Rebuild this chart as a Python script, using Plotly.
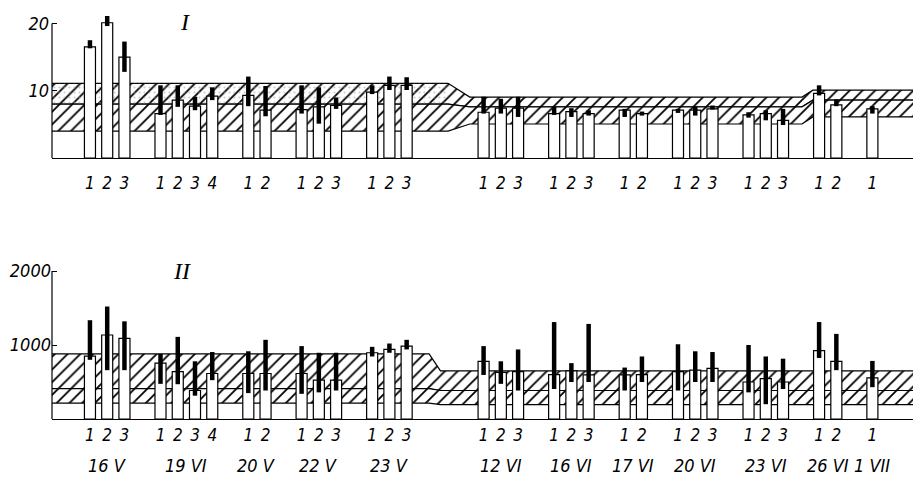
import plotly.graph_objects as go

# ---------------- data ----------------
dates = ["16 V", "19 VI", "20 V", "22 V", "23 V", "12 VI", "16 VI",
         "17 VI", "20 VI", "23 VI", "26 VI", "1 VII"]
group_sizes = [3, 4, 2, 3, 3, 3, 3, 2, 3, 3, 2, 1]

# Panel I
I_value = [16.5, 20.1, 15.0, 6.6, 8.6, 7.7, 9.2, 9.3, 7.1, 7.2, 7.6, 7.8,
           9.8, 10.8, 10.8, 6.8, 7.4, 7.4, 6.6, 6.9, 6.6, 7.1, 6.6,
           7.1, 7.1, 7.3, 6.4, 6.6, 5.6, 9.6, 7.9, 7.3]
I_low = [16.3, 19.6, 12.8, 6.4, 7.6, 7.1, 8.6, 7.7, 6.2, 6.6, 5.1, 7.3,
         9.5, 10.1, 10.1, 6.6, 6.6, 6.1, 6.4, 6.1, 6.3, 6.1, 6.3,
         6.7, 6.3, 7.2, 6.0, 5.6, 4.9, 9.3, 7.7, 6.6]
I_high = [17.5, 21.1, 17.3, 10.8, 10.8, 9.1, 10.5, 12.1, 10.7, 10.8, 10.5, 9.0,
          10.8, 12.1, 12.0, 9.1, 8.8, 9.1, 7.6, 7.4, 7.1, 7.3, 6.9,
          7.3, 7.6, 7.8, 6.8, 7.1, 7.3, 10.8, 8.7, 7.7]
I_norm_upper = [11.1, 9.05, 10.1]
I_norm_mid = [8.0, 7.6, 8.6]
I_norm_lower = [4.0, 5.05, 6.1]

# Panel II
II_value = [850, 1135, 1090, 755, 640, 385, 615, 615, 615, 615, 525, 525,
            895, 940, 985, 780, 630, 640, 600, 650, 595, 595, 600,
            640, 660, 685, 500, 545, 500, 925, 780, 555]
II_low = [800, 660, 660, 475, 470, 315, 525, 350, 385, 340, 360, 385,
          845, 895, 940, 595, 475, 385, 405, 500, 500, 385, 500,
          385, 500, 500, 360, 200, 405, 825, 660, 430]
II_high = [1335, 1520, 1320, 880, 1110, 780, 905, 915, 1070, 985, 895, 895,
           975, 1020, 1070, 985, 780, 940, 1310, 755, 1285, 695, 845,
           1010, 915, 905, 1000, 845, 815, 1310, 1150, 785]
II_norm_upper = [880, 650]
II_norm_mid = [410, 385]
II_norm_lower = [215, 195]

# ---------------- geometry from data ----------------
GAP = 2.09
BIG_GAP = 4.46
positions, numbers, group_first, group_last, group_center = [], [], [], [], []
x = 0.0
for gi, n in enumerate(group_sizes):
    if gi > 0:
        x += BIG_GAP if gi == 5 else GAP
    gp = []
    for k in range(n):
        if k > 0:
            x += 1.0
        gp.append(x)
        positions.append(x)
        numbers.append("<i>%d</i>" % (k + 1))
    group_first.append(gp[0])
    group_last.append(gp[-1])
    group_center.append(sum(gp) / len(gp))

XMIN, XMAX = -2.2, 47.83

top_sections = [(XMIN, group_last[4] + 2.4),
                (group_first[5] - 0.8, group_last[9] + 1.1),
                (group_first[10] - 0.36, XMAX)]
bot_sections = [(XMIN, group_last[4] + 1.3),
                (group_first[5] - 2.5, XMAX)]


def path(sections, levels):
    xs, ys = [], []
    for (a, b), v in zip(sections, levels):
        xs += [a, b]
        ys += [v, v]
    return xs, ys


def band(sections, lo, hi, xa, ya):
    x1, y1 = path(sections, hi)
    x0, y0 = path(sections, lo)
    return go.Scatter(
        x=x1 + x0[::-1], y=y1 + y0[::-1], xaxis=xa, yaxis=ya,
        mode="lines", fill="toself", fillcolor="white",
        line=dict(color="black", width=1.2),
        fillpattern=dict(shape="/", fgcolor="black", bgcolor="white",
                         fgopacity=1, size=9, solidity=0.2),
        hoverinfo="skip")


fig = go.Figure()

# bands (base axes)
fig.add_trace(band(top_sections, I_norm_mid, I_norm_upper, "x", "y"))
fig.add_trace(band(top_sections, I_norm_lower, I_norm_mid, "x", "y"))
# stipple on upper-left band
sx1, sy1 = path(top_sections[:1], I_norm_upper[:1])
sx0, sy0 = path(top_sections[:1], I_norm_mid[:1])
fig.add_trace(go.Scatter(
    x=sx1 + sx0[::-1], y=sy1 + sy0[::-1], xaxis="x", yaxis="y",
    mode="lines", fill="toself", fillcolor="rgba(0,0,0,0)",
    line=dict(width=0),
    fillpattern=dict(shape=".", fgcolor="#999", bgcolor="rgba(0,0,0,0)",
                     size=5, solidity=0.15),
    hoverinfo="skip"))
fig.add_trace(band(bot_sections, II_norm_mid, II_norm_upper, "x2", "y2"))
fig.add_trace(band(bot_sections, II_norm_lower, II_norm_mid, "x2", "y2"))

# bars (overlay axes so they sit above the bands)
BAR_W = 0.64
RANGE_W = 0.26
for vals, lo, hi, xa, ya in [(I_value, I_low, I_high, "x3", "y3"),
                             (II_value, II_low, II_high, "x4", "y4")]:
    fig.add_trace(go.Bar(x=positions, y=vals, width=BAR_W, xaxis=xa, yaxis=ya,
                         marker=dict(color="white",
                                     line=dict(color="black", width=1.2))))
    fig.add_trace(go.Bar(x=positions, y=[h - l for h, l in zip(hi, lo)],
                         base=lo, width=RANGE_W, xaxis=xa, yaxis=ya,
                         marker=dict(color="black", line=dict(width=0))))

# page body adds an 8px offset; compensate so pixel targets match
OFF = 8
H = 484.0


def py(p):
    return 1 - (p - OFF) / H


def px(p):
    return (p - 52) / 863.0


top_dom = [py(158), py(10)]
bot_dom = [py(419), py(255)]
YT = [0, (158 - 10) / 6.73]
YB = [0, (419 - 255) / 0.074]

TXT = "Liberation Sans Narrow, DejaVu Sans Condensed, Liberation Sans"
num_font = dict(family=TXT, size=17, color="black")

common_x = dict(range=[XMIN, XMAX], showline=True, linecolor="black", linewidth=1.3,
                showgrid=False, zeroline=False, ticks="", automargin=False,
                tickvals=positions, ticktext=numbers, tickfont=num_font)
common_y = dict(showline=False, showgrid=False, zeroline=False, ticks="inside",
                ticklen=5, tickcolor="black", automargin=False,
                tickfont=dict(family=TXT, size=18, color="black"))

fig.update_layout(
    width=921, height=484,
    margin=dict(l=52 - OFF, r=6 + OFF, t=0, b=0),
    plot_bgcolor="white", paper_bgcolor="white",
    showlegend=False, barmode="overlay",
    xaxis=dict(domain=[0, 1], anchor="y", ticklabelstandoff=9, **common_x),
    yaxis=dict(domain=top_dom, range=YT, anchor="x", tickvals=[10, 20],
               ticktext=["<i>10</i>", "<i>20</i>"], ticklabelstandoff=2, **common_y),
    xaxis2=dict(domain=[0, 1], anchor="y2", ticklabelstandoff=0, **common_x),
    yaxis2=dict(domain=bot_dom, range=YB, anchor="x2", tickvals=[1000, 2000],
                ticktext=["<i>1000</i>", "<i>2000</i>"], ticklabelstandoff=0, **common_y),
    xaxis3=dict(overlaying="x", range=[XMIN, XMAX], anchor="y3", visible=False),
    yaxis3=dict(overlaying="y", range=YT, anchor="x3", visible=False),
    xaxis4=dict(overlaying="x2", range=[XMIN, XMAX], anchor="y4", visible=False),
    yaxis4=dict(overlaying="y2", range=YB, anchor="x4", visible=False),
)

# y axis lines
fig.add_shape(type="line", xref="x domain", yref="y", x0=0, x1=0, y0=0, y1=20,
              line=dict(color="black", width=1.2))
fig.add_shape(type="line", xref="x2 domain", yref="y2", x0=0, x1=0, y0=0, y1=2000,
              line=dict(color="black", width=1.2))

# date labels
for c, d in zip(group_center, dates):
    fig.add_annotation(x=c, xref="x2", y=py(465), yref="paper",
                       xanchor="center", yanchor="middle",
                       text="<i>%s</i>" % d, showarrow=False,
                       font=dict(family=TXT, size=18, color="black"))

# panel labels
fig.add_annotation(x=px(185), xref="paper", y=py(22), yref="paper",
                   xanchor="center", yanchor="middle",
                   text="<i>I</i>", showarrow=False,
                   font=dict(family="Liberation Serif", size=24, color="black"))
fig.add_annotation(x=px(182), xref="paper", y=py(271), yref="paper",
                   xanchor="center", yanchor="middle",
                   text="<i>II</i>", showarrow=False,
                   font=dict(family="Liberation Serif", size=24, color="black"))

fig.write_html("out.html")
